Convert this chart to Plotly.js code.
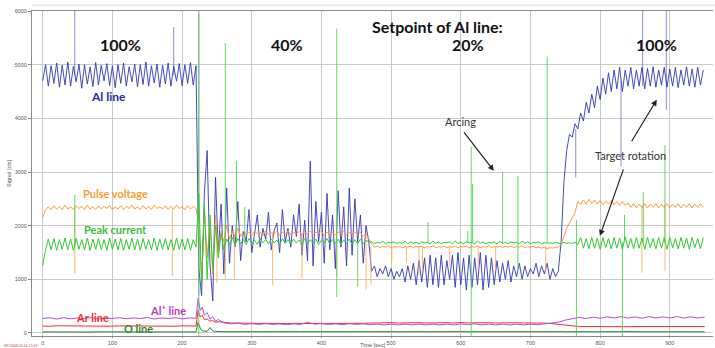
<!DOCTYPE html>
<html>
<head>
<meta charset="utf-8">
<script src="https://cdn.plot.ly/plotly-3.0.1.min.js"></script>
<style>html,body{margin:0;padding:0;background:#fff;}#chart{width:715px;height:348px;}</style>
</head>
<body>
<div id="chart"></div>
<script>
// ---- data (time step of the main signals: 4 s) ----
const STEP = 4;
const alLine = [
4700,5000,4600,4980,4650,5030,4580,4990,4620,5050,
4600,4970,4680,5010,4560,5000,4640,4960,4590,5040,
4620,4990,4700,5020,4610,4980,4570,5000,4650,5030,
4600,4960,4680,5010,4590,5000,4630,5050,4600,4980,
4660,5010,4580,4990,4640,5030,4600,4970,4690,5020,
4610,5000,4650,5040,4620,4980,
1200,700,2600,3400,1300,600,2900,1500,2400,1100,
2700,1300,2000,1600,2450,1350,1900,1700,2300,1500,
1850,2200,1600,1950,1750,2250,1550,1900,2050,1500,
2300,1700,1950,1600,2200,1800,2400,1450,2100,1350,
3200,1250,2450,1700,2250,1300,2600,1550,2200,1200,
2650,1600,2350,1250,2700,1450,2500,1700,2200,1300,
2000,1700,
1150,1250,1050,1200,1100,1250,1050,1200,1000,1150,
1050,1200,950,1250,1000,1300,900,1350,950,1400,
850,1450,900,1400,850,1450,900,1350,1000,1450,
850,1500,900,1400,800,1450,850,1400,900,1500,
800,1450,850,1400,900,1350,950,1300,1000,1350,
950,1250,1050,1300,1000,1250,1050,1200,1100,1300,
1050,1250,1100,1300,1000,1200,1050,
1150,1700,2800,3400,3700,3650,3900,3800,4100,3950,
4300,4100,4450,4200,4600,4350,4750,4450,4850,4500,
4900,4550,4950,4500,4900,4600,4950,4550,4900,4600,
4950,4550,4930,4600,4960,4580,4900,4620,4950,4580,
4920,4600,4950,4570,4900,4620,4960,4600,4920,4580,
4950,4620,4900
];
const pulseVoltage = [
2150,2300,2350,2300,2370,2310,2360,2300,2380,2310,
2350,2300,2370,2320,2360,2300,2380,2310,2350,2300,
2370,2310,2360,2320,2380,2300,2350,2310,2370,2300,
2360,2320,2380,2310,2350,2300,2370,2310,2360,2300,
2380,2320,2350,2310,2370,2300,2360,2310,2380,2320,
2350,2300,2370,2310,2360,2320,
2000,1000,2300,1400,2100,1100,2200,1500,1900,1700,
2000,1750,1900,1800,1950,1800,1900,1830,1880,1820,
1900,1850,1880,1820,1900,1840,1870,1850,1900,1820,
1880,1850,1900,1830,1870,1850,1890,1840,1880,1850,
1900,1830,1880,1850,1900,1820,1880,1850,1870,1830,
1880,1850,1900,1830,1870,1850,1880,1830,1870,1800,
1850,1750,
1650,1600,1620,1590,1610,1600,1625,1590,1610,1600,
1620,1585,1610,1600,1620,1590,1615,1600,1620,1590,
1610,1600,1625,1590,1610,1600,1620,1590,1610,1595,
1620,1590,1610,1600,1620,1585,1610,1600,1620,1590,
1610,1600,1625,1590,1610,1600,1620,1590,1615,1600,
1620,1590,1610,1600,1620,1590,1610,1600,1620,1590,
1600,1580,1600,1570,1590,1580,1600,
1600,1650,1800,1950,2050,2150,2250,2450,2400,2480,
2400,2490,2410,2480,2400,2470,2390,2460,2400,2470,
2390,2450,2380,2450,2380,2420,2340,2410,2330,2400,
2340,2410,2330,2400,2340,2410,2330,2400,2340,2410,
2330,2400,2340,2410,2330,2400,2340,2410,2330,2400,
2340,2410,2340
];
const peakCurrent = [
1250,1550,1750,1550,1760,1540,1740,1560,1770,1550,
1750,1540,1760,1560,1740,1550,1770,1540,1750,1560,
1760,1550,1740,1540,1770,1560,1750,1550,1760,1540,
1740,1560,1770,1550,1750,1540,1760,1560,1740,1550,
1770,1540,1750,1560,1760,1550,1740,1540,1770,1560,
1750,1550,1760,1540,1740,1600,
2600,900,2400,1000,2200,1200,2000,1400,1850,1550,
1750,1650,1780,1640,1760,1660,1740,1650,1760,1670,
1730,1650,1760,1680,1740,1660,1750,1680,1730,1650,
1760,1670,1740,1660,1750,1680,1730,1650,1760,1660,
1740,1670,1750,1650,1730,1680,1760,1660,1740,1670,
1750,1660,1730,1680,1750,1650,1740,1670,1750,1660,
1730,1690,
1700,1660,1690,1670,1710,1660,1690,1680,1700,1660,
1690,1670,1710,1660,1700,1670,1690,1660,1700,1680,
1690,1660,1710,1670,1700,1660,1690,1680,1700,1660,
1710,1670,1690,1660,1700,1680,1690,1660,1710,1670,
1700,1660,1690,1680,1700,1660,1710,1670,1690,1660,
1700,1680,1690,1660,1710,1670,1700,1660,1690,1680,
1700,1660,1690,1670,1680,1670,1690,
1680,1660,1690,1670,1680,1670,1690,1650,1780,1580,
1760,1570,1780,1580,1770,1560,1780,1590,1760,1570,
1780,1580,1770,1560,1790,1580,1760,1570,1780,1580,
1770,1560,1780,1590,1760,1570,1780,1580,1770,1560,
1780,1590,1760,1570,1780,1580,1770,1560,1780,1590,
1760,1570,1780
];

// low-level lines: 10 s step with finer samples at the 222 s transition
const lowTransitionT = [223,226,229,232,236,240,244,248,252];
const alPlusLine = [
270,285,260,285,265,280,270,290,260,280,270,285,265,280,270,290,260,280,270,285,265,280,275,
650,420,480,330,380,260,300,220,250,
190,170,185,160,175,160,175,160,170,155,
170,160,200,165,175,160,170,155,175,160,
170,155,165,150,165,150,165,150,165,150,
165,150,165,150,170,155,170,150,165,150,
165,150,165,150,165,155,170,180,200,240,
270,290,270,295,275,300,280,305,280,300,
275,305,280,300,280,305,280,300,280,295
];
const arLine = [
130,125,135,130,128,132,130,126,134,130,128,132,130,127,133,130,128,132,130,126,134,130,130,
420,300,330,250,260,220,230,200,210,
195,185,185,180,180,178,180,175,178,175,
178,175,180,175,178,175,178,175,178,175,
180,185,190,185,192,186,192,186,192,186,
192,186,192,186,195,188,192,186,192,186,
192,186,192,186,190,186,185,175,160,140,
125,120,120,118,120,118,120,122,118,120,
120,118,122,120,118,120,122,118,120,120
];
const oLine = [
20,18,22,20,19,21,20,18,22,20,19,21,20,18,22,20,19,21,20,18,22,20,20,
200,90,40,30,30,100,40,30,25,
25,22,26,24,25,23,26,24,25,22,
26,24,25,23,26,24,25,22,26,24,
25,23,26,24,25,22,26,24,25,23,
26,24,25,22,26,24,25,23,26,24,
25,22,26,24,25,23,26,24,25,22,
26,24,25,23,26,24,25,22,26,24,
25,23,26,24,25,22,26,24,25,23
];

// spikes: time, low end, high end
const alSpikeT  = [46, 188, 224, 765, 830, 861, 895];
const alSpikeLo = [4800, 4800, 700, 2900, 3100, 4600, 4160];
const alSpikeHi = [6000, 5700, 6000, 3800, 4700, 6000, 6000];

const pvSpikeT  = [46, 186, 250, 262, 275, 330, 372, 422, 464, 471, 501, 522, 540, 545, 584, 625, 650, 722, 860, 893];
const pvSpikeLo = [1100, 1060, 930, 980, 1000, 890, 1020, 1050, 810, 900, 1340, 1300, 1080, 1200, 1250, 1190, 1170, 1170, 1120, 1150];
const pvSpikeHi = [2330, 2330, 1850, 1850, 1850, 1850, 1850, 1850, 1850, 1610, 1610, 1610, 1610, 1610, 1610, 1610, 1610, 1610, 2380, 2380];

const pcSpikeT  = [46, 224, 262, 278, 290, 422, 452, 553, 610, 615, 617, 660, 682, 724, 766, 832, 835, 862, 893];
const pcSpikeLo = [1600, -60, 1700, 1700, 1700, 670, 860, 1680, 1680, -60, 1680, 1680, 1210, 1680, -60, -60, 1700, 1700, 1700];
const pcSpikeHi = [2570, 5950, 5400, 3200, 2350, 5670, 1700, 2070, 1900, 3470, 2780, 3010, 2920, 5150, 2100, 1700, 2200, 2630, 3500];

const xTicks = [0,100,200,300,400,500,600,700,800,900];
const yTicks = [0,1000,2000,3000,4000,5000,6000];

// ---- build ----
const mainT = alLine.map((_, i) => i * STEP);
const lowT = [];
for (let t = 0; t <= 220; t += 10) lowT.push(t);
lowTransitionT.forEach(t => lowT.push(t));
for (let t = 260; t <= 950; t += 10) lowT.push(t);

function spikes(T, lo, hi) {
  const x = [], y = [];
  T.forEach((t, i) => { x.push(t, t, null); y.push(lo[i], hi[i], null); });
  return {x, y};
}
const alS = spikes(alSpikeT, alSpikeLo, alSpikeHi);
const pvS = spikes(pvSpikeT, pvSpikeLo, pvSpikeHi);
const pcS = spikes(pcSpikeT, pcSpikeLo, pcSpikeHi);

const C = {al:'#3434b4', pv:'#ff9a3a', pc:'#33c933', ar:'#ff2a2a', alp:'#b24fd8', o:'#2a8a2a'};
const ln = (c, w) => ({color: c, width: w || 1});
const traces = [
  {x: lowT, y: oLine, mode:'lines', line: ln(C.o)},
  {x: lowT, y: arLine, mode:'lines', line: ln(C.ar)},
  {x: lowT, y: alPlusLine, mode:'lines', line: ln(C.alp)},
  {x: alS.x, y: alS.y, mode:'lines', line: ln('#7070d0'), opacity: 0.8},
  {x: mainT, y: alLine, mode:'lines', line: ln(C.al, 0.9)},
  {x: pvS.x, y: pvS.y, mode:'lines', line: ln('#ffb060'), opacity: 0.9},
  {x: mainT, y: pulseVoltage, mode:'lines', line: ln(C.pv)},
  {x: pcS.x, y: pcS.y, mode:'lines', line: ln('#55d655'), opacity: 0.9},
  {x: mainT, y: peakCurrent, mode:'lines', line: ln(C.pc)}
];

const F = 'Lato, "Open Sans", sans-serif';
const SMALL = {family: 'Arial, sans-serif', size: 5.5, color: '#555'};
function lab(text, x, y, size, color, bold) {
  return {text: bold ? '<b>' + text + '</b>' : text, x, y, xref:'x', yref:'y', showarrow:false,
          font:{family:F, size, color}, xanchor:'center', yanchor:'middle'};
}
function arrow(x, y, ax, ay) {
  return {text:'', x, y, xref:'x', yref:'y', ax, ay, showarrow:true, arrowhead:2, arrowsize:1,
          arrowwidth:1.2, arrowcolor:'#222'};
}

const layout = {
  width: 715, height: 348,
  margin: {l: 32, r: 2, t: 11, b: 12},
  paper_bgcolor: '#fff', plot_bgcolor: '#fff',
  showlegend: false,
  xaxis: {range: [-15.4, 962], tickvals: xTicks, showgrid: true, gridcolor: '#c9c9c9', gridwidth: 1,
          zeroline: false, showline: true, linecolor: '#8a8a8a', mirror: true, ticks: 'outside', ticklen: 1,
          tickcolor: '#8a8a8a', tickfont: SMALL, automargin: false},
  yaxis: {range: [-56, 6000], tickvals: yTicks, showgrid: true, gridcolor: '#c9c9c9', gridwidth: 1,
          zeroline: false, showline: true, linecolor: '#8a8a8a', ticks: 'outside', ticklen: 3,
          tickcolor: '#8a8a8a', tickfont: SMALL, automargin: false,
          title: {text: 'Signal [cts]', font: SMALL, standoff: 2}},
  annotations: [
    lab('Setpoint of Al line:', 566, 5709, 16, '#111', true),
    lab('100%', 111, 5373, 16, '#111', true),
    lab('40%', 350, 5373, 16, '#111', true),
    lab('20%', 611, 5373, 16, '#111', true),
    lab('100%', 881, 5373, 16, '#111', true),
    lab('Al line', 94, 4403, 12, '#2a2aa0', true),
    lab('Pulse voltage', 105, 2593, 11, '#f5a030', true),
    lab('Peak current', 105, 1922, 11, '#3cbf3c', true),
    lab('Ar line', 71, 298, 11, '#ff2a2a', true),
    lab('Al<sup>+</sup> line', 180, 429, 11, '#c23ac4', true),
    lab('O line', 138, 75, 11, '#2a8a2a', true),
    lab('Arcing', 600, 3937, 11, '#333', false),
    lab('Target rotation', 843, 3302, 11, '#333', false),
    arrow(647.5, 3022, -31, -40),
    arrow(881.3, 4347, -26, 43),
    arrow(799.7, 1810, 24, -68),
    {text: 'Time [sec]', xref:'paper', yref:'paper', x: 0.5, y: -0.027, xanchor:'center', yanchor:'middle',
     showarrow:false, font: SMALL},
    {text: 'SN 2008-04-04 15:43', xref:'paper', yref:'paper', x: -0.044, y: -0.03,
     xanchor:'left', yanchor:'middle', showarrow:false, font:{family:'Arial, sans-serif', size:3.5, color:'#e03030'}}
  ],
  shapes: [
    {type:'line', xref:'paper', yref:'paper', x0: 0, x1: 1.003, y0: 1.018, y1: 1.018, line:{color:'#dddddd', width:1}}
  ]
};

Plotly.newPlot('chart', traces, layout, {displayModeBar: false, staticPlot: true});
</script>
</body>
</html>
